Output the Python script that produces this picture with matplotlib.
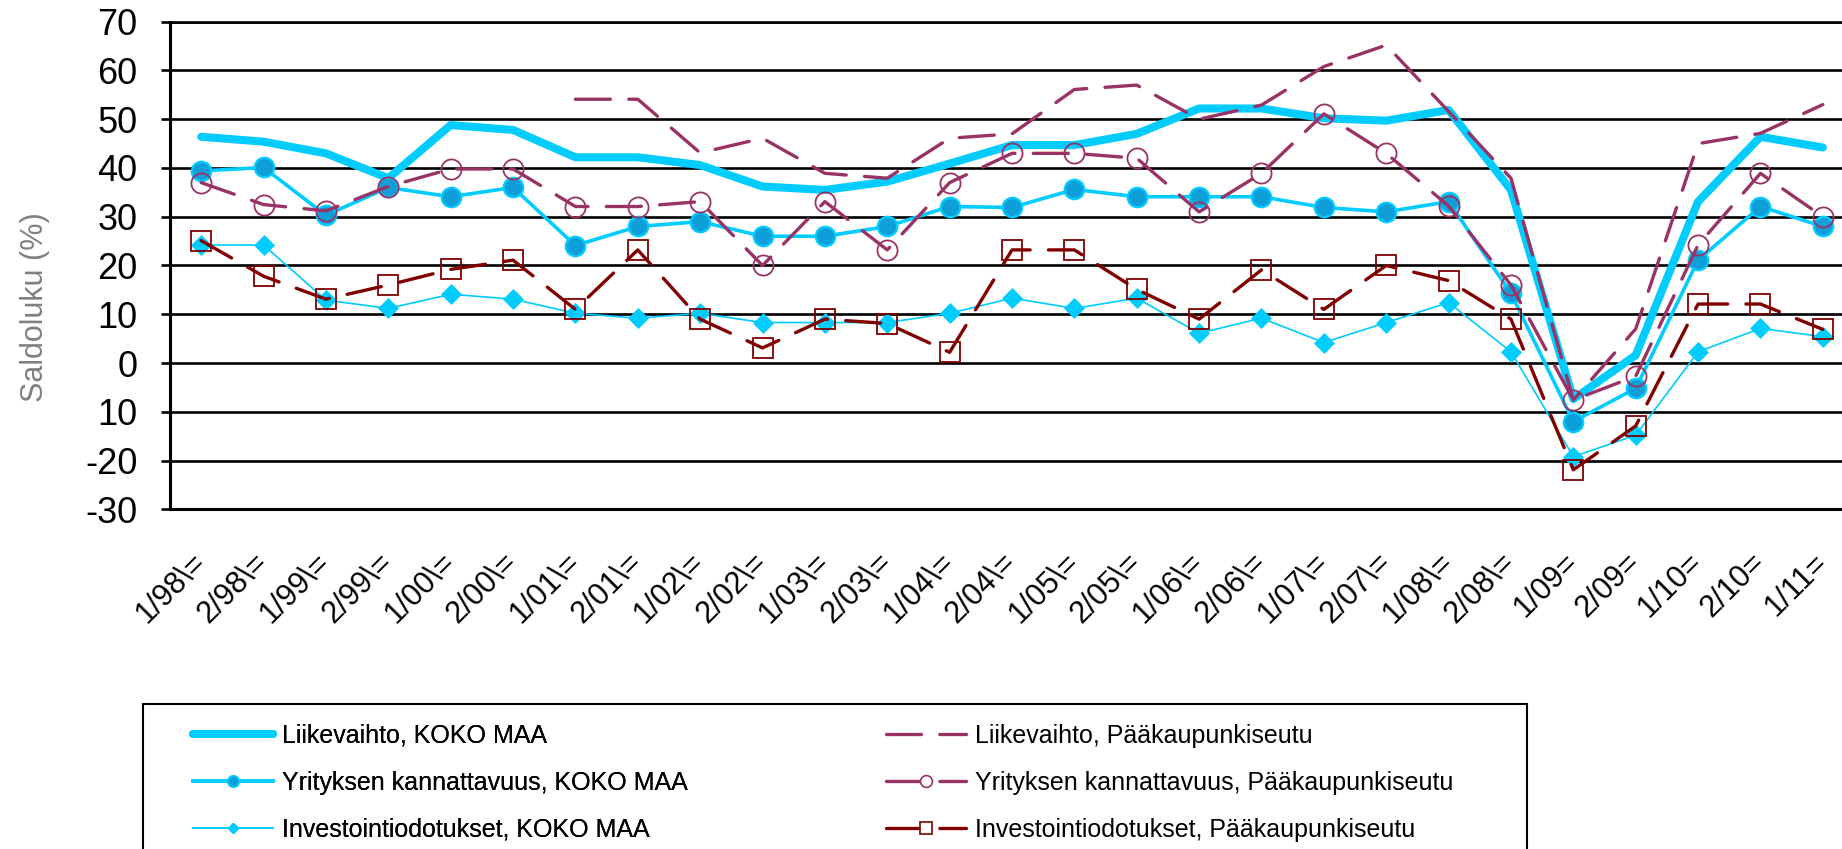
import numpy as np
import matplotlib
matplotlib.use("Agg")
import matplotlib.pyplot as plt
from matplotlib.lines import Line2D
from matplotlib.patches import Rectangle

plt.rcParams['font.family'] = ['Liberation Sans', 'DejaVu Sans']

# kvartaalit / puolivuodet
periods = ['1/98\\=', '2/98\\=', '1/99\\=', '2/99\\=', '1/00\\=', '2/00\\=',
           '1/01\\=', '2/01\\=', '1/02\\=', '2/02\\=', '1/03\\=', '2/03\\=',
           '1/04\\=', '2/04\\=', '1/05\\=', '2/05\\=', '1/06\\=', '2/06\\=',
           '1/07\\=', '2/07\\=', '1/08\\=', '2/08\\=', '1/09=', '2/09=',
           '1/10=', '2/10=', '1/11=']

liikevaihto_koko = [46.4, 45.4, 43.0, 37.9, 48.8, 47.8, 42.2, 42.2, 40.6, 36.2, 35.5, 37.2, 40.9, 44.7,
                    44.7, 47.0, 52.2, 52.2, 50.2, 49.7, 51.9, 35.5, -7.4, 1.6, 33.1, 46.4, 44.2]
kannattavuus_koko = [39.4, 40.1, 30.3, 36.0, 34.1, 36.0, 24.1, 28.0, 29.0, 26.0, 26.0, 28.0, 32.1, 31.9,
                     35.6, 34.1, 34.1, 34.1, 31.9, 31.0, 33.1, 14.3, -12.0, -5.2, 21.1, 32.1, 28.0]
investointi_koko = [24.2, 24.2, 12.9, 11.2, 14.1, 13.1, 10.2, 9.2, 10.2, 8.3, 8.3, 8.3, 10.2, 13.3,
                    11.2, 13.3, 6.1, 9.2, 4.2, 8.3, 12.4, 2.3, -19.2, -14.8, 2.3, 7.1, 5.4]
liikevaihto_pk = [np.nan, np.nan, np.nan, np.nan, np.nan, np.nan, 54.1, 54.1, 43.1, 46.1, 38.9, 37.9,
                  46.1, 47.0, 56.1, 57.0, 50.0, 52.9, 60.8, 65.2, 51.6, 37.9, -7.6, 7.0, 45.0, 47.1, 53.0]
kannattavuus_pk = [37.0, 32.5, 31.2, 36.2, 39.8, 39.8, 32.1, 32.1, 33.1, 20.0, 33.1, 23.2, 37.0, 43.0,
                   43.0, 42.0, 31.0, 38.9, 51.1, 43.0, 32.2, 16.0, -7.6, -2.7, 24.2, 38.9, 30.0]
investointi_pk = [25.1, 17.8, 13.1, 16.0, 19.2, 21.1, 11.0, 23.2, 9.0, 3.1, 9.0, 8.1, 2.2, 23.2,
                  23.2, 15.1, 9.0, 19.1, 11.0, 20.0, 16.9, 9.0, -21.9, -12.9, 12.1, 12.1, 6.9]

series_names = ['Liikevaihto, KOKO MAA', 'Yrityksen kannattavuus, KOKO MAA', 'Investointiodotukset, KOKO MAA',
                'Liikevaihto, Pääkaupunkiseutu', 'Yrityksen kannattavuus, Pääkaupunkiseutu',
                'Investointiodotukset, Pääkaupunkiseutu']

yticks = [-30, -20, -10, 0, 10, 20, 30, 40, 50, 60, 70]
ytick_labels = ['-30', '-20', '10', '0', '10', '20', '30', '40', '50', '60', '70']

cyan = '#00CCFF'
dotblue = '#0F9FD8'
purple = '#993366'
darkred = '#800000'
dash = (10.5, 5.5)

fig = plt.figure(figsize=(18.42, 8.49), dpi=100)
W, H = 1842, 849
# axes runs a little past the right edge, like in the original
ax = fig.add_axes([170 / W, 1 - 509.3 / H, 1684 / W, 487.6 / H])

x = np.arange(len(periods))

ax.plot(x, liikevaihto_koko, color=cyan, lw=5.8, solid_joinstyle='round', solid_capstyle='round', zorder=3)
ax.plot(x, kannattavuus_koko, color=cyan, lw=2.6, marker='o', ms=14, mfc=dotblue, mec=cyan, mew=1.6, zorder=4)
ax.plot(x, investointi_koko, color=cyan, lw=1.2, marker='D', ms=10, mfc=cyan, mec=cyan, mew=0.5, zorder=5)
ax.plot(x, liikevaihto_pk, color=purple, lw=2.4, dashes=dash, dash_capstyle='round', zorder=6)
ax.plot(x, kannattavuus_pk, color=purple, lw=2.4, dashes=dash, dash_capstyle='round',
        marker='o', ms=14.5, mfc='none', mec=purple, mew=1.3, zorder=7)
ax.plot(x, investointi_pk, color=darkred, lw=2.4, dashes=dash, dash_capstyle='round',
        marker='s', ms=14.5, mfc='none', mec=darkred, mew=1.3, zorder=8)

ax.set_xlim(-0.5, len(periods) - 0.5)
ax.set_ylim(-30, 70)
ax.set_yticks(yticks)
ax.set_yticklabels(ytick_labels)
ax.set_xticks(x)
ax.set_xticklabels(periods, rotation=45, ha='right', va='center', rotation_mode='anchor')

ax.grid(axis='y', color='black', lw=1.9)
ax.set_axisbelow(True)
ax.spines['right'].set_visible(False)
ax.spines['top'].set_linewidth(1.9)
ax.spines['left'].set_linewidth(2.2)
ax.spines['bottom'].set_linewidth(2.2)
ax.tick_params(axis='y', length=6.5, width=1.9, pad=17, labelsize=26)
ax.tick_params(axis='x', length=0, pad=35, labelsize=22)

fig.text(34.6 / W, 1 - 307 / H, 'Saldoluku (%)', rotation=90, ha='center', va='center',
         fontsize=22, color='#808080')

# legend: proxies with smaller markers, two columns placed separately
h_koko = [Line2D([], [], color=cyan, lw=5.8, solid_capstyle='round'),
          Line2D([], [], color=cyan, lw=2.6, marker='o', ms=8, mfc=dotblue, mec=cyan, mew=1.2),
          Line2D([], [], color=cyan, lw=1.2, marker='D', ms=5.5, mfc=cyan, mec=cyan)]
h_pk = [Line2D([], [], color=purple, lw=2.4, dashes=dash, dash_capstyle='round'),
        Line2D([], [], color=purple, lw=2.4, dashes=dash, dash_capstyle='round',
               marker='o', ms=8.5, mfc='white', mec=purple, mew=1.2),
        Line2D([], [], color=darkred, lw=2.4, dashes=dash, dash_capstyle='round',
               marker='s', ms=8.5, mfc='white', mec=darkred, mew=1.2)]

leg_kw = dict(loc='upper left', frameon=False, fontsize=18, borderpad=0, borderaxespad=0,
              handlelength=3.2, handletextpad=0.36, labelspacing=0.92)
leg1 = fig.legend(h_koko, series_names[:3], bbox_to_anchor=(193 / W, 1 - 724 / H), **leg_kw)
fig.legend(h_pk, series_names[3:], bbox_to_anchor=(886 / W, 1 - 724 / H), **leg_kw)
fig.add_artist(leg1)

fig.patches.append(Rectangle((143 / W, -0.1), (1527 - 143) / W, (849 - 704) / H + 0.1,
                             transform=fig.transFigure, fill=False, ec='black', lw=1.5))

fig.savefig('out.png', dpi=100, facecolor='white')
